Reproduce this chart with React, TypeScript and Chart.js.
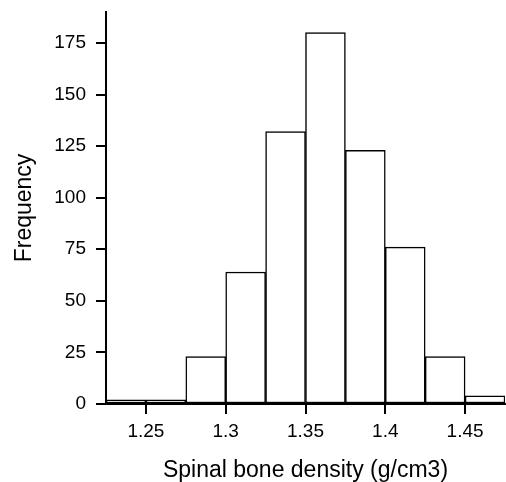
import React, { useEffect, useRef } from "react";
import { Chart, registerables } from "chart.js";

Chart.register(...registerables);

const binCenters = [1.2375, 1.2625, 1.2875, 1.3125, 1.3375, 1.3625, 1.3875, 1.4125, 1.4375, 1.4625];
const frequencies = [2, 2, 23, 64, 132, 180, 123, 76, 23, 4];
const xTicks = [1.25, 1.3, 1.35, 1.4, 1.45];
const yTicks = [0, 25, 50, 75, 100, 125, 150, 175];
const xTitle = "Spinal bone density (g/cm3)";
const yTitle = "Frequency";

export default function App() {
  const canvasRef = useRef<HTMLCanvasElement | null>(null);

  useEffect(() => {
    if (!canvasRef.current) return;
    const family = "'Liberation Sans', Arial, Helvetica, sans-serif";
    const chart = new Chart(canvasRef.current, {
      type: "bar",
      data: {
        datasets: [
          {
            data: binCenters.map((x, i) => ({ x, y: frequencies[i] })),
            backgroundColor: "#ffffff",
            borderColor: "#000000",
            borderWidth: 1.5,
            borderSkipped: false,
            barPercentage: 1,
            categoryPercentage: 1,
          },
        ],
      },
      options: {
        responsive: false,
        animation: false,
        events: [],
        layout: { padding: { top: 12, right: 1, left: 0, bottom: 0 } },
        plugins: { legend: { display: false }, tooltip: { enabled: false } },
        scales: {
          x: {
            type: "linear",
            min: 1.225,
            max: 1.475,
            offset: false,
            afterFit: (s: any) => {
              s.height = 78;
              s.paddingLeft = 0;
              s.paddingRight = 0;
            },
            afterBuildTicks: (s: any) => {
              s.ticks = xTicks.map((v) => ({ value: v }));
            },
            grid: {
              offset: false,
              drawOnChartArea: false,
              drawTicks: true,
              tickLength: 10,
              color: "#000000",
              lineWidth: 2,
            },
            border: { display: true, color: "#000000", width: 2 },
            ticks: {
              color: "#000000",
              padding: 6,
              maxRotation: 0,
              autoSkip: false,
              font: { family, size: 19 },
              callback: (v: any) => String(v),
            },
            title: {
              display: true,
              text: xTitle,
              color: "#000000",
              font: { family, size: 23, lineHeight: 1 },
              padding: { top: 0, bottom: 0 },
            },
          },
          y: {
            type: "linear",
            min: 0,
            max: 190,
            afterFit: (s: any) => {
              s.width = 106;
              s.paddingTop = 0;
              s.paddingBottom = 0;
            },
            afterBuildTicks: (s: any) => {
              s.ticks = yTicks.map((v) => ({ value: v }));
            },
            grid: {
              drawOnChartArea: false,
              drawTicks: true,
              tickLength: 10,
              color: "#000000",
              lineWidth: 2,
            },
            border: { display: true, color: "#000000", width: 2 },
            ticks: {
              color: "#000000",
              padding: 10,
              font: { family, size: 19 },
              callback: (v: any) => String(v),
            },
            title: {
              display: true,
              text: yTitle,
              color: "#000000",
              font: { family, size: 23, lineHeight: 1 },
              padding: { top: 13, bottom: 0 },
            },
          },
        },
      },
    });
    return () => chart.destroy();
  }, []);

  return (
    <div style={{ position: "absolute", left: 0, top: 0, width: 506, height: 482, background: "#fff" }}>
      <canvas ref={canvasRef} width={506} height={482} style={{ display: "block" }} />
    </div>
  );
}
